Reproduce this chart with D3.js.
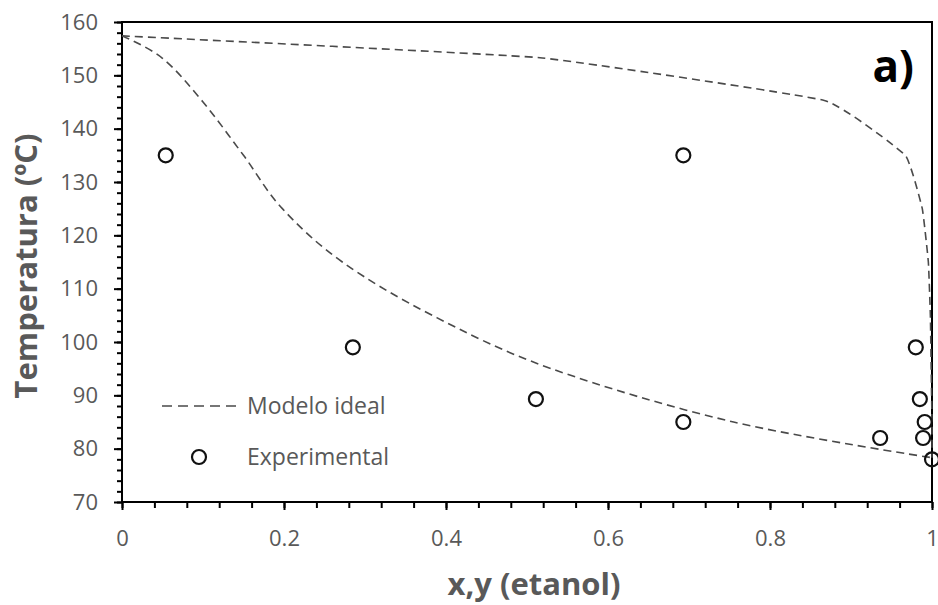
<!DOCTYPE html>
<html>
<head>
<meta charset="utf-8">
<script src="https://cdn.jsdelivr.net/npm/d3@7"></script>
<style>
  html, body { margin: 0; padding: 0; background: #fff; }
  svg { display: block; font-family: "Open Sans", "Noto Sans", sans-serif; }
</style>
</head>
<body>
<svg id="chart" width="938" height="605"></svg>
<script>
// Ideal-model bubble curve (liquid composition x, temperature ºC)
const liquidX = [0, 0.05, 0.1, 0.15, 0.198, 0.272, 0.383, 0.53, 0.755, 1];
const liquidT = [157.4, 153.2, 145, 135, 125, 115, 105, 95, 85, 78.3];

// Ideal-model dew curve (vapour composition y, temperature ºC)
const vaporY = [0, 0.516, 0.867, 0.967, 0.988, 0.9955, 0.998, 0.999, 1, 1];
const vaporT = [157.4, 153.3, 145.3, 135, 125, 115, 105, 95, 85, 78.3];

// Experimental points
const expX = [0.054, 0.285, 0.511, 0.693, 0.693, 0.936, 0.980, 0.985, 0.991, 0.989, 1.0];
const expT = [135, 99, 89.3, 135, 85, 82, 99, 89.3, 85, 82, 78];

const xTicks = [0, 0.2, 0.4, 0.6, 0.8, 1];
const yTicks = [70, 80, 90, 100, 110, 120, 130, 140, 150, 160];

const svg = d3.select("#chart");
const plot = { left: 122, right: 932, top: 22, bottom: 502 };

const x = d3.scaleLinear().domain([0, 1]).range([plot.left, plot.right]);
const y = d3.scaleLinear().domain([70, 160]).range([plot.bottom, plot.top]);

const textGrey = "#595959";

// minor ticks
const xMinor = d3.range(0, 1.0001, 0.04).map(v => +v.toFixed(2));
const yMinor = d3.range(70, 160.001, 2);

svg.append("g")
  .attr("transform", `translate(0,${plot.bottom})`)
  .call(d3.axisBottom(x).tickValues(xMinor).tickSize(6).tickFormat(""))
  .call(g => g.select(".domain").remove())
  .call(g => g.selectAll("line").attr("stroke", "#000").attr("stroke-width", 2));

svg.append("g")
  .attr("transform", `translate(${plot.left},0)`)
  .call(d3.axisLeft(y).tickValues(yMinor).tickSize(5).tickFormat(""))
  .call(g => g.select(".domain").remove())
  .call(g => g.selectAll("line").attr("stroke", "#000").attr("stroke-width", 2));

// major ticks with labels
svg.append("g")
  .attr("transform", `translate(0,${plot.bottom})`)
  .call(d3.axisBottom(x).tickValues(xTicks).tickSize(8).tickPadding(20)
    .tickFormat(d => d === 0 ? "0" : d === 1 ? "1" : d3.format(".1f")(d)))
  .call(g => g.select(".domain").remove())
  .call(g => g.selectAll("line").attr("stroke", "#000").attr("stroke-width", 2))
  .call(g => g.selectAll("text").attr("fill", textGrey).attr("font-size", 22)
    .attr("font-family", "Open Sans, sans-serif"));

svg.append("g")
  .attr("transform", `translate(${plot.left},0)`)
  .call(d3.axisLeft(y).tickValues(yTicks).tickSize(8).tickPadding(16))
  .call(g => g.select(".domain").remove())
  .call(g => g.selectAll("line").attr("stroke", "#000").attr("stroke-width", 2))
  .call(g => g.selectAll("text").attr("fill", textGrey).attr("font-size", 22)
    .attr("font-family", "Open Sans, sans-serif"));

// plot frame
svg.append("rect")
  .attr("x", plot.left).attr("y", plot.top)
  .attr("width", plot.right - plot.left).attr("height", plot.bottom - plot.top)
  .attr("fill", "none").attr("stroke", "#000").attr("stroke-width", 2);

// smoothed polylines through the model points
const liquidLine = d3.line()
  .x(d => x(d[0]))
  .y(d => y(d[1]))
  .curve(d3.curveCatmullRom.alpha(0));

const vaporLine = d3.line()
  .x(d => x(d[0]))
  .y(d => y(d[1]))
  .curve(d3.curveCardinal.tension(0.7));

const dashStyle = { stroke: "#4a4a4a", width: 1.6, dash: "8,5" };

[[liquidX, liquidT, liquidLine], [vaporY, vaporT, vaporLine]].forEach(([xs, ts, gen]) => {
  svg.append("path")
    .datum(xs.map((v, i) => [v, ts[i]]))
    .attr("d", gen)
    .attr("fill", "none")
    .attr("stroke", dashStyle.stroke)
    .attr("stroke-width", dashStyle.width)
    .attr("stroke-dasharray", dashStyle.dash);
});

svg.append("g").selectAll("circle")
  .data(expX.map((v, i) => [v, expT[i]]))
  .join("circle")
  .attr("cx", d => x(d[0]))
  .attr("cy", d => y(d[1]))
  .attr("r", 7)
  .attr("fill", "none")
  .attr("stroke", "#111")
  .attr("stroke-width", 2.2);

// legend
const legend = svg.append("g");
legend.append("line")
  .attr("x1", 162).attr("x2", 236).attr("y1", 406).attr("y2", 406)
  .attr("stroke", dashStyle.stroke).attr("stroke-width", dashStyle.width)
  .attr("stroke-dasharray", "10,6");
legend.append("text")
  .attr("x", 247).attr("y", 406).attr("dy", "0.35em")
  .attr("fill", textGrey).attr("font-size", 23)
  .text("Modelo ideal");
legend.append("circle")
  .attr("cx", 199).attr("cy", 457).attr("r", 7)
  .attr("fill", "none").attr("stroke", "#111").attr("stroke-width", 2.2);
legend.append("text")
  .attr("x", 247).attr("y", 457).attr("dy", "0.35em")
  .attr("fill", textGrey).attr("font-size", 23)
  .text("Experimental");

// axis titles
svg.append("text")
  .attr("x", 534).attr("y", 595)
  .attr("text-anchor", "middle")
  .attr("fill", textGrey).attr("font-weight", "bold").attr("font-size", 31)
  .text("x,y (etanol)");

svg.append("text")
  .attr("transform", "translate(37,266) rotate(-90)")
  .attr("text-anchor", "middle")
  .attr("fill", textGrey).attr("font-weight", "bold").attr("font-size", 31)
  .text("Temperatura (ºC)");

// panel tag
svg.append("text")
  .attr("x", 914).attr("y", 82)
  .attr("text-anchor", "end")
  .attr("fill", "#000").attr("font-weight", "bold").attr("font-size", 44)
  .text("a)");
</script>
</body>
</html>
